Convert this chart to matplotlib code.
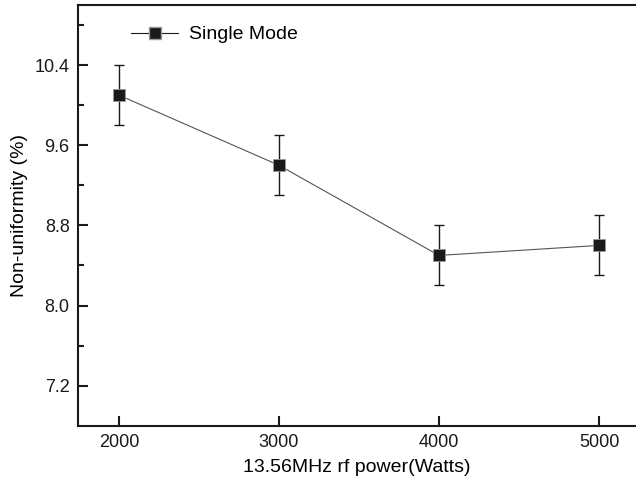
import matplotlib.pyplot as plt

plt.rcParams['font.family'] = ['Liberation Sans', 'DejaVu Sans']

# data
power = [2000, 3000, 4000, 5000]
nonuniformity = [10.10, 9.40, 8.50, 8.60]
error = [0.30, 0.30, 0.30, 0.30]
yticks = [7.2, 8.0, 8.8, 9.6, 10.4]
xticks = [2000, 3000, 4000, 5000]

fig = plt.figure(figsize=(6.36, 4.83), dpi=100)
ax = fig.add_axes([0.1226, 0.1186, 0.8774, 0.871])

ax.plot(power, nonuniformity, color='#555555', linewidth=0.8, zorder=2)
ax.errorbar(power, nonuniformity, yerr=error, fmt='none', ecolor='#1a1a1a',
            elinewidth=1.0, capsize=3.6, capthick=1.0, zorder=3)
ax.plot(power, nonuniformity, linestyle='none', marker='s', markersize=8,
        markerfacecolor='#1a1a1a', markeredgecolor='#999999',
        markeredgewidth=0.6, zorder=4)

# legend handle drawn as line+marker
ax.plot([], [], color='#1a1a1a', linewidth=0.8, marker='s', markersize=8,
        markerfacecolor='#1a1a1a', markeredgecolor='#999999',
        label='Single Mode')
leg = ax.legend(loc='upper left', bbox_to_anchor=(0.064, 0.992), frameon=False,
                fontsize=14, handlelength=2.4, handletextpad=0.55)

ax.set_xlim(1744, 5231)
ax.set_ylim(6.8, 11.0)
ax.set_xticks(xticks)
ax.set_yticks(yticks)
ax.set_yticks([7.6, 8.4, 9.2, 10.0, 10.8], minor=True)
ax.set_yticklabels([f'{v:.1f}' for v in yticks])

ax.spines['right'].set_visible(False)
for s in ['left', 'bottom', 'top']:
    ax.spines[s].set_linewidth(1.5)
    ax.spines[s].set_color('#1a1a1a')

ax.tick_params(which='major', direction='in', length=7, width=1.5,
               labelsize=13, colors='#1a1a1a', pad=6)
ax.tick_params(which='minor', direction='in', length=4, width=1.5,
               colors='#1a1a1a')
ax.tick_params(top=False, right=False)

ax.set_xlabel('13.56MHz rf power(Watts)', fontsize=14, labelpad=6)
ax.set_ylabel('Non-uniformity (%)', fontsize=14, labelpad=5)

fig.savefig('out.png', dpi=100)
